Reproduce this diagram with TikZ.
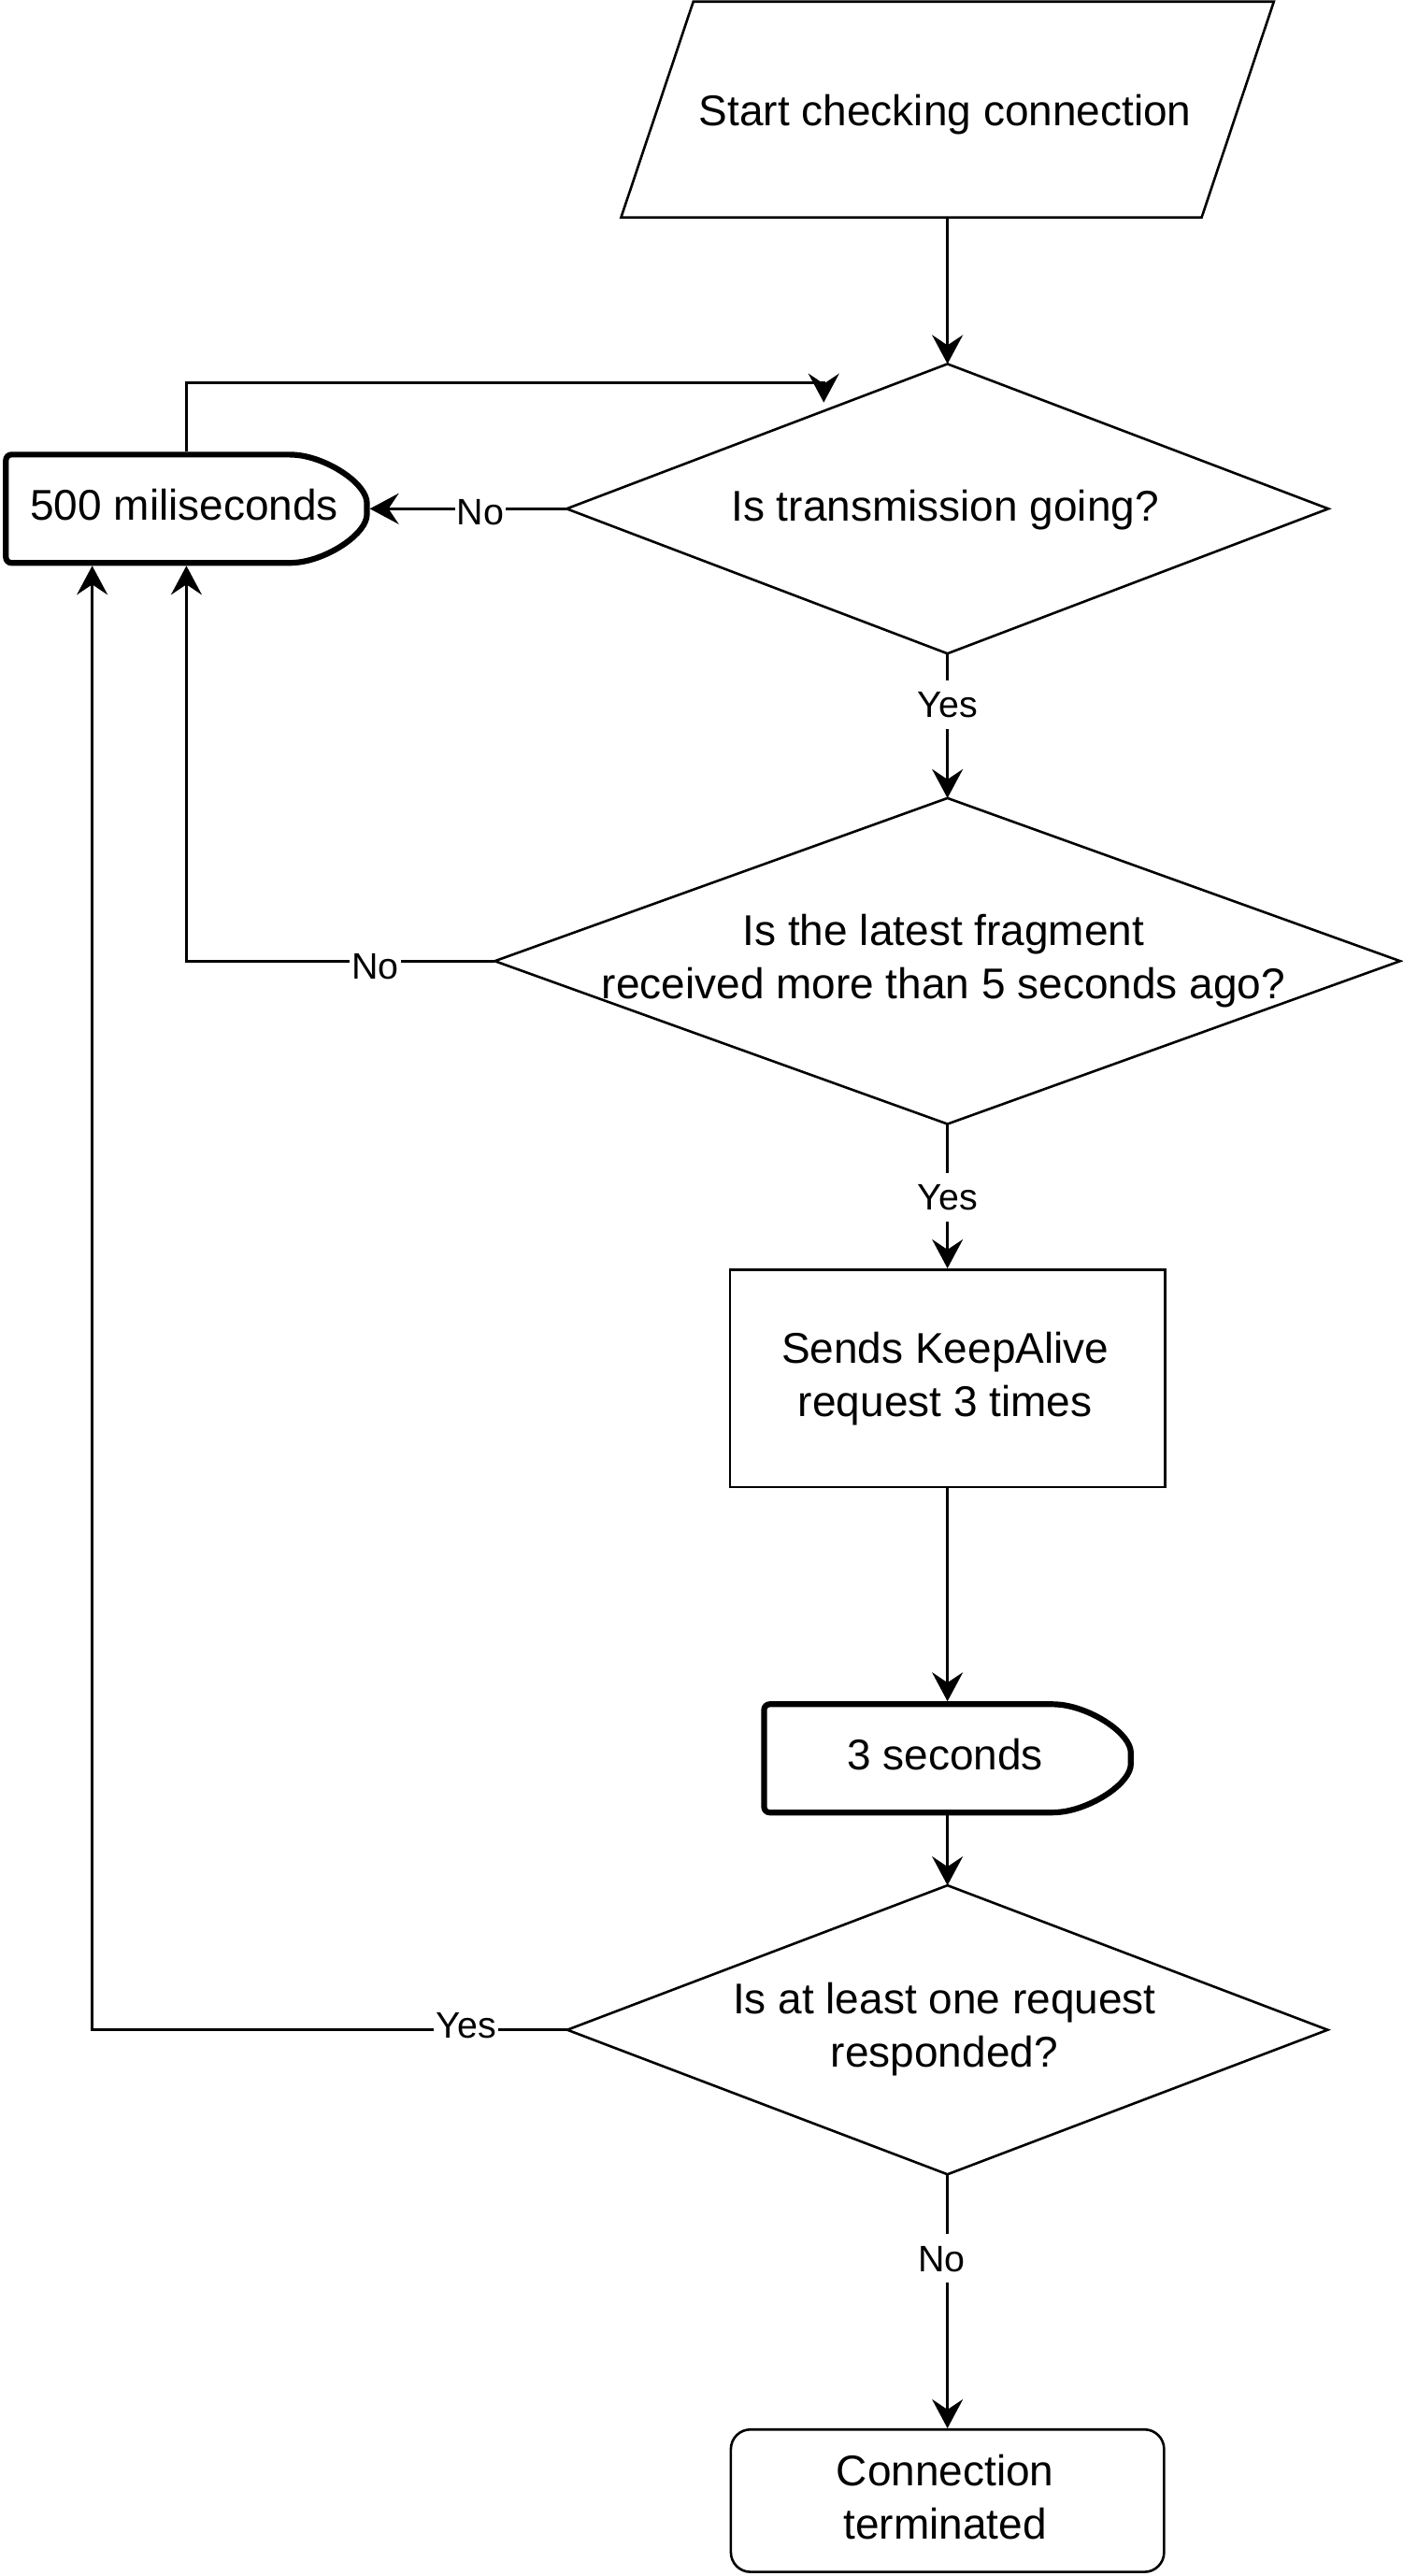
\documentclass[tikz,border=0pt]{standalone}
\usepackage{fontspec}
\setmainfont{Liberation Sans}
\usetikzlibrary{arrows.meta,calc}
\def\pxu{0.8778pt}
\newcommand\delayshape[3]{%
  \draw[thickline, rounded corners=3pt]
    ($(#1.center)+(#2,0)$)
    .. controls +(0,-0.45*#3) and +(0.2*#2,0.1*#3) .. ($(#1.center)+(0.6*#2,-#3)$)
    -- ($(#1.center)+(-#2,-#3)$)
    -- ($(#1.center)+(-#2,#3)$)
    -- ($(#1.center)+(0.6*#2,#3)$)
    .. controls +(0.2*#2,-0.1*#3) and +(0,0.45*#3) .. ($(#1.center)+(#2,0)$)
    -- cycle;}
\begin{document}
\begin{tikzpicture}[x=\pxu, y=-\pxu,
  line1/.style={line width=1.3pt},
  thickline/.style={line width=3.1pt},
  arr/.style={line1, -{Stealth[length=15.5pt,width=16.5pt,inset=5.5pt]}},
  sized/.style 2 args={minimum width=#1*\pxu, minimum height=#2*\pxu, inner sep=0pt, outer sep=0pt},
  txt/.style={font=\fontsize{23pt}{28.4pt}\selectfont, align=center, inner sep=0pt,
              execute at begin node=\strut, execute at end node=\strut},
  lbl/.style={font=\fontsize{19.7pt}{23pt}\selectfont, fill=white, inner xsep=1pt, inner ysep=0pt,
              text height=20pt, text depth=5.9pt, anchor=base}
]
\useasboundingbox (0,0) rectangle (855,1569.9);

% shape frames
\node[sized={397.8}{131.5}] (start) at (577.4,66.75) {};
\node[sized={464.2}{176.5}] (d1) at (577.4,310.05) {};
\node[sized={220}{66}, outer sep=1.55pt] (ms) at (113.6,310.05) {};
\node[sized={551.7}{198.6}] (d2) at (577.4,585.7) {};
\node[sized={265}{132.5}, draw, line1, outer sep=0.65pt] (keep) at (577.4,839.95) {};
\node[sized={223.5}{66}, outer sep=1.55pt] (wait3) at (577.4,1071.6) {};
\node[sized={463.4}{176.1}] (d3) at (577.4,1237.05) {};
\node[sized={264}{86.8}, draw, line1, rounded corners=10.5pt, outer sep=0.65pt] (stop) at (577.4,1524) {};

% outlines
\draw[line1] ($(start.north west)+(44,0)$) -- (start.north east)
  -- ($(start.south east)+(-44,0)$) -- (start.south west) -- cycle;
\foreach \d in {d1,d2,d3}
  \draw[line1] (\d.north) -- (\d.east) -- (\d.south) -- (\d.west) -- cycle;
\delayshape{ms}{110}{33}
\delayshape{wait3}{111.75}{33}

% texts
\node[txt] (tstart) at (576,70.4) {Start checking connection};
\node[txt] (td1) at (576,311) {Is transmission going?};
\node[txt] (tms) at (112.3,310.6) {500 miliseconds};
\node[txt] (td2) at (575,587.8) {Is the latest fragment\\received more than 5 seconds ago?};
\node[txt] (tkeep) at (576,842.2) {Sends KeepAlive\\request 3 times};
\node[txt] (twait) at (576,1071.9) {3 seconds};
\node[txt] (td3) at (575.5,1239) {Is at least one request\\responded?};
\node[txt] (tstop) at (576,1526.3) {Connection\\terminated};

% free ends
\coordinate (k1) at (502,233.2);
\coordinate (k1t) at (502,245.3);
\coordinate (k2) at ($(ms.south)+(-57.4,0)$);

% connectors
\draw[arr] (start.south) -- (d1.north);
\draw[arr] (d1.west) -- (ms.east);
\draw[arr] (ms.north) |- (k1) -- (k1t);
\draw[arr] (d1.south) -- (d2.north);
\draw[arr] (d2.west) -| (ms.south);
\draw[arr] (d2.south) -- (keep.north);
\draw[arr] (keep.south) -- (wait3.north);
\draw[arr] (wait3.south) -- (d3.north);
\draw[arr] (d3.west) -| (k2);
\draw[arr] (d3.south) -- (stop.north);

% edge labels
\node[lbl] (lno1) at (292.7,320) {No};
\node[lbl] (lno2) at (228.6,596.6) {No};
\node[lbl] (lyes1) at (577.4,437.4) {Yes};
\node[lbl] (lyes2) at (577.4,737.6) {Yes};
\node[lbl] (lyes3) at (284,1242) {Yes};
\node[lbl] (lno3) at (574,1384.4) {No};
\end{tikzpicture}
\end{document}
